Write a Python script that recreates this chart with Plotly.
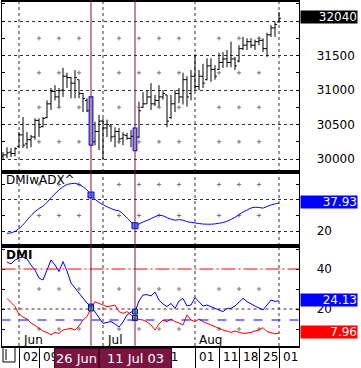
import plotly.graph_objects as go

W, H = 361, 368

# ---------------- data ----------------
# trading-day index, 0 = 02 Jun 2003 (one index per weekday)
BAR_IDX = list(range(-4, 66))
OPEN = [30040, 30060, 30100, 30080, 30180, 30350, 30220, 30280, 30320, 30560,
        30470, 30600, 30800, 30980, 30900, 31000, 31200, 31180, 31100, 31150,
        30950, 30850, 30720, 30250, 30400, 30550, 30450, 30480, 30330, 30400,
        30300, 30340, 30300, 30330, 30320, 30750, 30800, 30900, 30800, 30850,
        30900, 30930, 30600, 30800, 30950, 30900, 31150, 30950, 31200, 31050,
        31200, 31150, 31350, 31300, 31300, 31400, 31450, 31400, 31450, 31420,
        31600, 31650, 31700, 31650, 31700, 31720, 31600, 31800, 31900, 31990]
HIGH = [30100, 30170, 30160, 30170, 30390, 30610, 30390, 30350, 30590, 30590,
        30610, 30850, 31030, 31070, 31030, 31320, 31250, 31190, 31290, 31150,
        30960, 30880, 30900, 30540, 30640, 30590, 30570, 30490, 30460, 30450,
        30390, 30380, 30420, 30450, 30830, 30970, 31000, 31100, 30930, 31070,
        31000, 30930, 30930, 31000, 31030, 31250, 31200, 31290, 31520, 31290,
        31380, 31460, 31460, 31360, 31540, 31550, 31580, 31700, 31480, 31650,
        31770, 31750, 31750, 31730, 31770, 31750, 31830, 31940, 31990, 32130]
LOW = [29990, 30010, 30030, 30040, 30170, 30160, 30150, 30170, 30280, 30320,
       30460, 30590, 30710, 30850, 30740, 30900, 31030, 30880, 30880, 30880,
       30680, 30680, 30200, 30200, 30130, 30000, 30320, 30250, 30170, 30230,
       30200, 30280, 30170, 30120, 30300, 30740, 30800, 30710, 30770, 30750,
       30860, 30460, 30580, 30680, 30810, 30790, 30760, 30850, 31000, 31000,
       31030, 31140, 31120, 31150, 31290, 31320, 31330, 31330, 31290, 31400,
       31580, 31580, 31610, 31580, 31650, 31550, 31480, 31770, 31770, 31970]
CLOSE = [30060, 30090, 30080, 30150, 30350, 30200, 30280, 30320, 30560, 30460,
         30590, 30800, 30980, 30900, 30990, 31200, 31180, 31100, 31180, 30950,
         30880, 30700, 30230, 30400, 30550, 30450, 30500, 30320, 30400, 30290,
         30350, 30300, 30330, 30300, 30700, 30800, 30900, 30800, 30850, 30900,
         30950, 30550, 30800, 30950, 30900, 31150, 30900, 31200, 31050, 31200,
         31100, 31350, 31300, 31200, 31400, 31450, 31400, 31450, 31350, 31600,
         31650, 31700, 31650, 31700, 31720, 31600, 31800, 31900, 31950, 32040]

IND_IDX = list(range(-3, 66))
ADX = [18.5, 18.8, 19.8, 21.5, 24, 27, 30, 32.5, 34.5, 36,
       38.5, 41.5, 44, 46.5, 48.5, 50, 50.5, 50.8, 50, 48.5,
       46.5, 43.2, 40.5, 38.5, 37, 35.7, 34.5, 33.5, 33, 31,
       28.5, 25.8, 23.4, 24.5, 25.8, 26.8, 28, 29.2, 30.2, 29.8,
       28.6, 27.6, 27, 27.3, 27, 26, 25.6, 25.2, 24.8, 24.5,
       24.4, 24.4, 24.6, 25, 25.5, 26.3, 27.5, 28.8, 30.5, 32.2,
       33.5, 34.8, 35.3, 35.2, 34.8, 35.8, 36.8, 37.5, 37.93]
DI_PLUS = [43.5, 42.5, 44.5, 45.5, 46, 45, 42, 39.5, 35.5, 34.5,
           39.5, 44.5, 42, 38.7, 43.7, 39, 33, 30.3, 28, 25.5,
           23, 21.2, 18.5, 15.5, 12.8, 13.3, 13.7, 12.5, 11, 13.5,
           17, 18.5, 18.7, 24, 27, 27.2, 26.5, 28.5, 24.5, 22.5,
           21.2, 22.8, 20.3, 24, 25.3, 21.5, 22, 25.7, 23.8, 21.5,
           22, 21, 20.3, 19.5, 18.7, 20.3, 20.3, 21.5, 23.5, 25.3,
           23.7, 22.8, 21.5, 20.5, 19.5, 22, 24.5, 23.8, 24.13]
DI_MINUS = [25.3, 23.5, 21.2, 17.5, 16, 15, 13, 11.8, 10.5, 9,
            8.2, 7.2, 8.3, 7.8, 9.5, 9.8, 10.3, 9.5, 11.5, 14.5,
            16.2, 20.3, 23.7, 22.8, 22, 21.2, 21.5, 22, 18.7, 17.8,
            18.7, 17, 15.5, 14.8, 14.5, 13.5, 12, 9.5, 12.5, 14.5,
            13.7, 15, 13.7, 13, 12, 17, 14.5, 13.7, 15, 13.7,
            12.8, 12, 11, 10.3, 9.5, 9, 8.3, 9, 8.3, 7.8,
            8, 8.3, 9, 9.5, 10.7, 8.7, 8.2, 7.6, 7.96]

CURSOR_IDX = [18, 29]
CURSOR_TEXT = ["26 Jun", "11 Jul 03"]

MONTH_IDX = [0, 21, 44, 65]
MONTH_LABEL_IDX = [0, 21, 44]
MONTH_NAMES = ["Jun", "Jul", "Aug"]
# separators of the date strip (weekly)
WEEK_IDX = [0, 5, 10, 15, 21, 25, 30, 35, 44, 50, 55, 60, 65]
# date labels that are not covered by the cursor date boxes
DAY_LABEL_IDX = [0, 5, 35, 44, 50, 55, 60, 65]
DAY_LABEL_TEXT = ["02", "09", "21", "01", "11", "18", "25", "01"]
CROSS_IDX = [5, 10, 15, 25, 30, 35, 40, 50, 55, 60]

PRICE_TICKS = [30000, 30500, 31000, 31500, 32000]
PRICE_TICKTEXT = ["30000", "30500", "31000", "31500", ""]
PRICE_CROSS = [30250, 30750, 31250, 31750]
ADX_TICKS = [20, 40]
ADX_TICKTEXT = ["20", ""]
ADX_CROSS = [30, 50]
DMI_TICKS = [20, 40]
DMI_TICKTEXT = ["20", "40"]
DMI_CROSS = [10, 30]
DMI_HI_LINE = 40
DMI_MID_LINE = 20
DMI_LO_LINE = 14.5

# ---------------- layout helpers ----------------
def px(x):
    return x / W

def py(y):
    return 1 - y / H

FONT = "DejaVu Sans"
MAROON = "#7a1440"
BLUE = "#0000ff"
RED = "#ff0000"
GRID = "#333333"

X_RANGE = [-4.375, 70.075]
X_DOMAIN = [px(1.5), px(299.3)]
TOP_DOM = [py(172), py(1.5)]
MID_DOM = [py(246), py(172)]
BOT_DOM = [py(346), py(246)]
PRICE_RANGE = [29812, 32283]
ADX_RANGE = [10.32, 58.06]
DMI_RANGE = [1.5, 51.5]

fig = go.Figure()

# price bars
fig.add_trace(go.Ohlc(
    x=BAR_IDX, open=OPEN, high=HIGH, low=LOW, close=CLOSE,
    xaxis="x", yaxis="y", tickwidth=0.5,
    increasing=dict(line=dict(color="black", width=1)),
    decreasing=dict(line=dict(color="black", width=1)),
    hoverinfo="skip"))

# highlighted cursor bars
for ci in CURSOR_IDX:
    k = BAR_IDX.index(ci)
    hi, lo = HIGH[k], LOW[k]
    fig.add_trace(go.Scatter(
        x=[ci - 0.45, ci + 0.45, ci + 0.45, ci - 0.45, ci - 0.45],
        y=[lo, lo, hi, hi, lo], mode="lines", fill="toself",
        fillcolor="#ffffb0", line=dict(color=BLUE, width=1.2),
        xaxis="x", yaxis="y", hoverinfo="skip"))

# grid crosses
def crosses(yvals, yaxis):
    xs, ys = [], []
    for yv in yvals:
        for xv in CROSS_IDX:
            xs.append(xv)
            ys.append(yv)
    fig.add_trace(go.Scatter(
        x=xs, y=ys, mode="markers", xaxis="x", yaxis=yaxis,
        marker=dict(symbol="cross-thin", size=3, line=dict(color="#777777", width=1)),
        hoverinfo="skip"))

crosses(PRICE_CROSS, "y")
crosses(ADX_CROSS, "y2")
crosses(DMI_CROSS, "y3")

# ADX
fig.add_trace(go.Scatter(x=IND_IDX, y=ADX, mode="lines", xaxis="x", yaxis="y2",
                         line=dict(color=BLUE, width=1, shape="spline", smoothing=0.6),
                         hoverinfo="skip"))
fig.add_trace(go.Scatter(
    x=CURSOR_IDX, y=[ADX[IND_IDX.index(c)] for c in CURSOR_IDX],
    mode="markers", xaxis="x", yaxis="y2",
    marker=dict(symbol="square", size=6, color="#5a78ff", line=dict(color=BLUE, width=1)),
    hoverinfo="skip"))

# DMI
fig.add_trace(go.Scatter(x=IND_IDX, y=DI_PLUS, mode="lines", xaxis="x", yaxis="y3",
                         line=dict(color=BLUE, width=1), hoverinfo="skip"))
fig.add_trace(go.Scatter(x=IND_IDX, y=DI_MINUS, mode="lines", xaxis="x", yaxis="y3",
                         line=dict(color=RED, width=1), hoverinfo="skip"))
mx, my = [], []
for c in CURSOR_IDX:
    k = IND_IDX.index(c)
    mx += [c, c]
    my += [DI_PLUS[k], DI_MINUS[k]]
fig.add_trace(go.Scatter(
    x=mx, y=my, mode="markers", xaxis="x", yaxis="y3",
    marker=dict(symbol="square", size=5, color="#40c040", line=dict(color=BLUE, width=1)),
    hoverinfo="skip"))

# ---------------- shapes ----------------
shapes = []
for yd in ["y domain", "y2 domain", "y3 domain"]:
    for m in MONTH_IDX:
        shapes.append(dict(type="line", xref="x", yref=yd, x0=m, x1=m, y0=0, y1=1,
                           line=dict(color=GRID, width=1, dash="dot"), layer="below"))
shapes.append(dict(type="line", xref="x domain", yref="y3", x0=0, x1=1,
                   y0=DMI_HI_LINE, y1=DMI_HI_LINE,
                   line=dict(color=RED, width=1, dash="14px,3px,2px,3px")))
shapes.append(dict(type="line", xref="x domain", yref="y3", x0=0, x1=1,
                   y0=DMI_MID_LINE, y1=DMI_MID_LINE, line=dict(color=GRID, width=1, dash="dot"),
                   layer="below"))
shapes.append(dict(type="line", xref="x domain", yref="y3", x0=0, x1=1,
                   y0=DMI_LO_LINE, y1=DMI_LO_LINE, line=dict(color=BLUE, width=1, dash="dash")))
for c in CURSOR_IDX:
    shapes.append(dict(type="line", xref="x", yref="paper", x0=c, x1=c,
                       y0=BOT_DOM[0], y1=1, line=dict(color=MAROON, width=1)))
# small button box at the left of the date strip
shapes.append(dict(type="rect", xref="paper", yref="paper", x0=px(3), x1=px(15),
                   y0=py(362), y1=py(347), line=dict(color="black", width=1)))
shapes.append(dict(type="line", xref="paper", yref="paper", x0=px(6), x1=px(6),
                   y0=py(360), y1=py(349), line=dict(color="black", width=1)))

# ---------------- annotations ----------------
ann = []
ann.append(dict(xref="paper", yref="paper", x=px(4), y=py(179.5), xanchor="left",
                yanchor="middle", text="DMIwADX^", showarrow=False,
                font=dict(family=FONT, size=12, color="black")))
ann.append(dict(xref="paper", yref="paper", x=px(4), y=py(254.5), xanchor="left",
                yanchor="middle", text="<b>DMI</b>", showarrow=False,
                font=dict(family=FONT, size=12, color="black")))
for m, name in zip(MONTH_LABEL_IDX, MONTH_NAMES):
    ann.append(dict(xref="x", yref="paper", x=m, y=py(340), xanchor="left",
                    yanchor="middle", xshift=2, text=name, showarrow=False,
                    font=dict(family=FONT, size=12, color="black")))
for w, t in zip(DAY_LABEL_IDX, DAY_LABEL_TEXT):
    ann.append(dict(xref="x", yref="paper", x=w, y=py(356.5), xanchor="left",
                    yanchor="middle", xshift=1.5, text=t, showarrow=False,
                    font=dict(family=FONT, size=12, color="black")))
# cursor date boxes
BOX2_W = 71
BOX1_W = 43
ann.append(dict(xref="x", yref="paper", x=CURSOR_IDX[1], y=py(347.5), xanchor="center",
                yanchor="top", text=CURSOR_TEXT[1], showarrow=False, width=BOX2_W, height=19,
                bgcolor=MAROON, bordercolor="#4a0020", borderwidth=1, borderpad=0,
                font=dict(family=FONT, size=13, color="white")))
ann.append(dict(xref="x", yref="paper", x=CURSOR_IDX[1], y=py(347.5), xanchor="right",
                xshift=-(BOX2_W / 2 + 1), yanchor="top", text=CURSOR_TEXT[0], showarrow=False,
                width=BOX1_W, height=19, bgcolor=MAROON, bordercolor="#4a0020", borderwidth=1,
                borderpad=0, font=dict(family=FONT, size=13, color="white")))

# last-value boxes on the right scale
def value_box(yref, yv, txt, color):
    ann.append(dict(xref="paper", yref=yref, x=px(299.5), y=yv, xanchor="left",
                    yanchor="middle", text=txt, showarrow=False, width=56, height=12,
                    align="right", bgcolor=color, borderpad=0, yshift=1,
                    font=dict(family=FONT, size=12, color="white")))

value_box("y", CLOSE[-1], f"{CLOSE[-1]:.0f}", "black")
value_box("y2", ADX[-1], f"{ADX[-1]:.2f}", BLUE)
value_box("y3", DI_PLUS[-1], f"{DI_PLUS[-1]:.2f}", BLUE)
value_box("y3", DI_MINUS[-1], f"{DI_MINUS[-1]:.2f}", RED)

# ---------------- axes ----------------
def xax(anchor, bottom=False):
    d = dict(domain=X_DOMAIN, range=X_RANGE, anchor=anchor, showline=True,
             linecolor="black", linewidth=2, mirror=True, showgrid=False,
             zeroline=False, showticklabels=False, fixedrange=True)
    if bottom:
        d.update(ticks="outside", ticklen=22, tickwidth=1, tickcolor="black",
                 tickmode="array", tickvals=WEEK_IDX)
    else:
        d.update(ticks="")
    return d

def yax(anchor, dom, rng, tv, tt, minor_dtick, grid):
    return dict(domain=dom, range=rng, anchor=anchor, side="right", showline=True,
                linecolor="black", linewidth=1, mirror="ticks", ticks="inside",
                ticklen=3, tickcolor="black", tickmode="array", tickvals=tv, ticktext=tt,
                showgrid=grid, gridcolor=GRID, griddash="dot", gridwidth=1,
                zeroline=False, ticklabelstandoff=14,
                tickfont=dict(family=FONT, size=12, color="black"),
                minor=dict(tickmode="linear", tick0=0, dtick=minor_dtick, ticks="inside",
                           ticklen=3, tickcolor="black", showgrid=False),
                fixedrange=True)

layout = dict(
    width=W, height=H, margin=dict(l=0, r=0, t=0, b=0),
    paper_bgcolor="white", plot_bgcolor="white", showlegend=False,
    xaxis=dict(**xax("y"), rangeslider=dict(visible=False)),
    xaxis2=dict(**xax("y2"), matches="x"),
    xaxis3=dict(**xax("y3", bottom=True), matches="x"),
    yaxis=yax("x", TOP_DOM, PRICE_RANGE, PRICE_TICKS, PRICE_TICKTEXT, 250, True),
    yaxis2=yax("x2", MID_DOM, ADX_RANGE, ADX_TICKS, ADX_TICKTEXT, 10, True),
    yaxis3=yax("x3", BOT_DOM, DMI_RANGE, DMI_TICKS, DMI_TICKTEXT, 10, False),
    shapes=shapes, annotations=ann,
)
fig.update_layout(**layout)
# put each indicator trace on its own x-axis pairing
for tr in fig.data:
    if tr.yaxis == "y2":
        tr.xaxis = "x2"
    elif tr.yaxis == "y3":
        tr.xaxis = "x3"

fig.write_html("out.html", config=dict(displayModeBar=False, staticPlot=True))
